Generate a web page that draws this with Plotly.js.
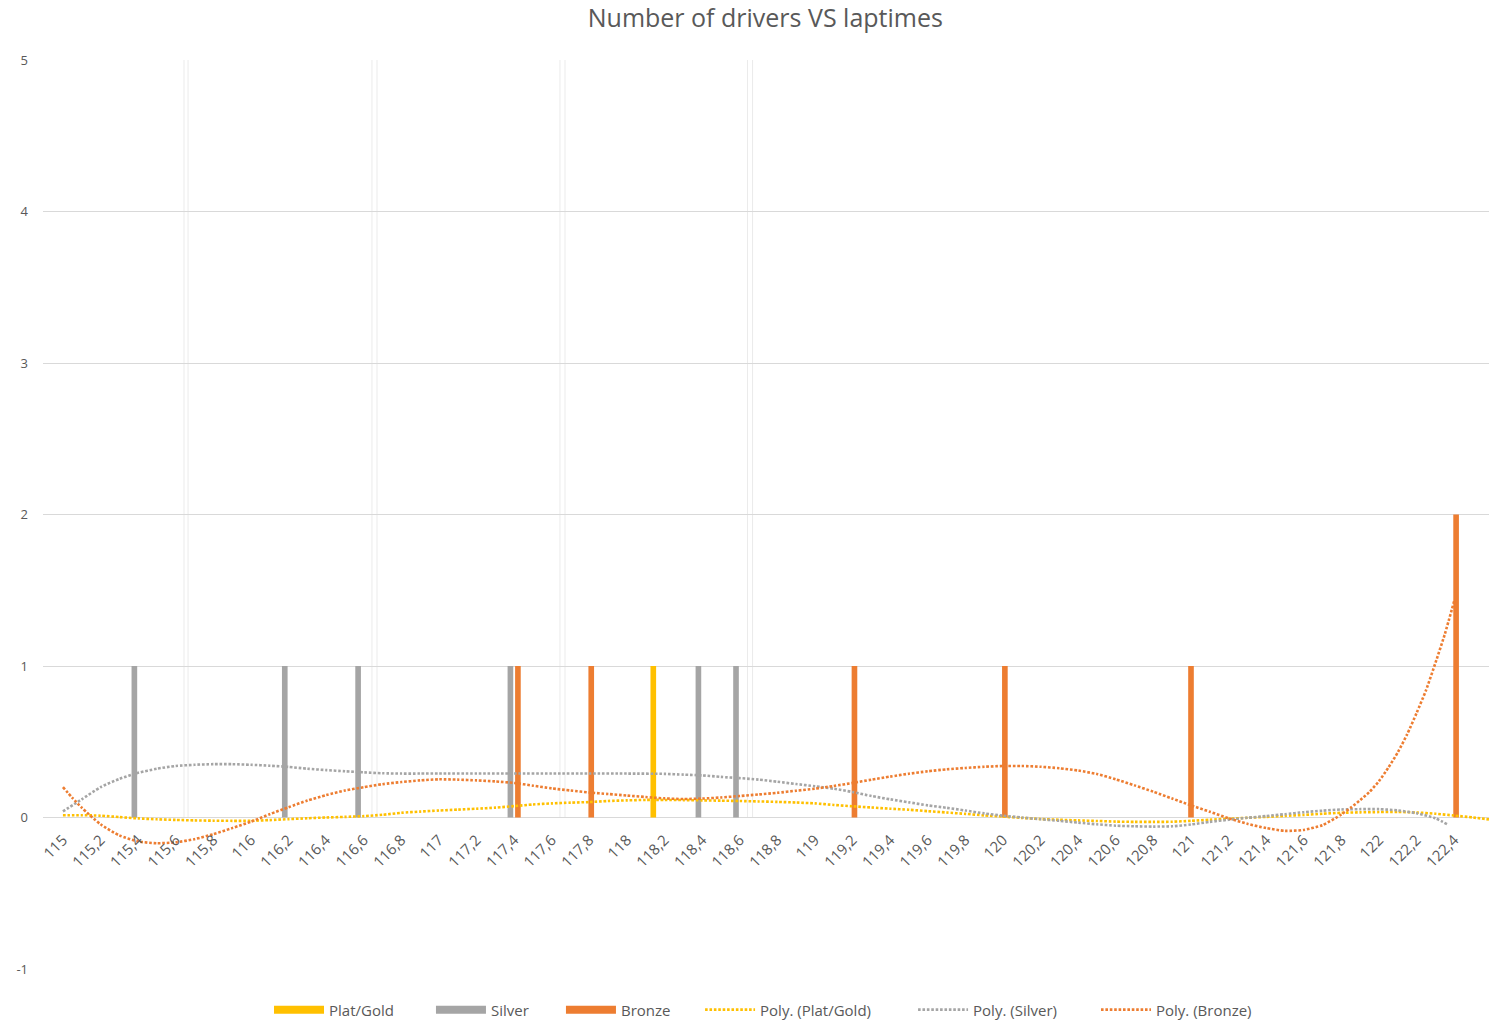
<!DOCTYPE html>
<html>
<head>
<meta charset="utf-8">
<script src="https://cdn.plot.ly/plotly-3.0.1.min.js"></script>
<style>html,body{margin:0;padding:0;background:#fff;}#chart{width:1489px;height:1021px;}</style>
</head>
<body>
<div id="chart"></div>
<script>
// ---- data ----
const seriesNames = ['Plat/Gold', 'Silver', 'Bronze'];
const trendNames = ['Poly. (Plat/Gold)', 'Poly. (Silver)', 'Poly. (Bronze)'];

const goldX = [118.14];
const goldY = [1];
const silverX = [115.38, 116.18, 116.57, 117.38, 118.38, 118.58];
const silverY = [1, 1, 1, 1, 1, 1];
const bronzeX = [117.42, 117.81, 119.21, 120.01, 121.0, 122.41];
const bronzeY = [1, 1, 1, 1, 1, 2];

const tickVals = [115, 115.2, 115.4, 115.6, 115.8, 116, 116.2, 116.4, 116.6, 116.8, 117, 117.2, 117.4, 117.6, 117.8, 118, 118.2, 118.4, 118.6, 118.8, 119, 119.2, 119.4, 119.6, 119.8, 120, 120.2, 120.4, 120.6, 120.8, 121, 121.2, 121.4, 121.6, 121.8, 122, 122.2, 122.4];
const tickLabels = ['115', '115,2', '115,4', '115,6', '115,8', '116', '116,2', '116,4', '116,6', '116,8', '117', '117,2', '117,4', '117,6', '117,8', '118', '118,2', '118,4', '118,6', '118,8', '119', '119,2', '119,4', '119,6', '119,8', '120', '120,2', '120,4', '120,6', '120,8', '121', '121,2', '121,4', '121,6', '121,8', '122', '122,2', '122,4'];
const yTickVals = [-1, 0, 1, 2, 3, 4, 5];
const yTickLabels = ['-1', '0', '1', '2', '3', '4', '5'];

// polynomial trendlines, values
const goldTrendX = [115.0, 115.1, 115.2, 115.3, 115.4, 115.5, 115.6, 115.7, 115.8, 115.9, 116.0, 116.1, 116.2, 116.3, 116.4, 116.5, 116.6, 116.7, 116.8, 116.9, 117.0, 117.1, 117.2, 117.3, 117.4, 117.5, 117.6, 117.7, 117.8, 117.9, 118.0, 118.1, 118.2, 118.3, 118.4, 118.5, 118.6, 118.7, 118.8, 118.9, 119.0, 119.1, 119.2, 119.3, 119.4, 119.5, 119.6, 119.7, 119.8, 119.9, 120.0, 120.1, 120.2, 120.3, 120.4, 120.5, 120.6, 120.7, 120.8, 120.9, 121.0, 121.1, 121.2, 121.3, 121.4, 121.5, 121.6, 121.7, 121.8, 121.9, 122.0, 122.1, 122.2, 122.3, 122.4, 122.5, 122.6];
const goldTrendY = [0.015, 0.015, 0.012, 0.003, -0.006, -0.012, -0.016, -0.019, -0.021, -0.022, -0.022, -0.017, -0.011, -0.005, 0.0, 0.004, 0.009, 0.018, 0.031, 0.039, 0.046, 0.052, 0.058, 0.065, 0.075, 0.086, 0.093, 0.098, 0.102, 0.109, 0.113, 0.116, 0.116, 0.115, 0.113, 0.111, 0.109, 0.106, 0.103, 0.099, 0.093, 0.083, 0.074, 0.066, 0.058, 0.051, 0.042, 0.033, 0.024, 0.014, 0.006, -0.003, -0.01, -0.015, -0.019, -0.023, -0.027, -0.029, -0.029, -0.028, -0.022, -0.015, -0.008, -0.002, 0.004, 0.011, 0.017, 0.025, 0.031, 0.034, 0.036, 0.037, 0.033, 0.025, 0.013, 0.0, -0.015];

const silverTrendX = [115.0, 115.1, 115.2, 115.3, 115.4, 115.5, 115.6, 115.7, 115.8, 115.9, 116.0, 116.1, 116.2, 116.3, 116.4, 116.5, 116.6, 116.7, 116.8, 116.9, 117.0, 117.2, 117.4, 117.6, 117.8, 118.0, 118.2, 118.3, 118.4, 118.5, 118.6, 118.7, 118.8, 118.9, 119.0, 119.1, 119.2, 119.3, 119.4, 119.5, 119.6, 119.7, 119.8, 119.9, 120.0, 120.1, 120.2, 120.3, 120.4, 120.5, 120.6, 120.7, 120.8, 120.9, 121.0, 121.1, 121.2, 121.3, 121.4, 121.5, 121.6, 121.7, 121.8, 121.9, 122.0, 122.1, 122.2, 122.3, 122.37];
const silverTrendY = [0.04, 0.12, 0.2, 0.255, 0.295, 0.322, 0.34, 0.348, 0.352, 0.352, 0.348, 0.342, 0.334, 0.322, 0.313, 0.305, 0.298, 0.292, 0.29, 0.29, 0.29, 0.29, 0.29, 0.29, 0.29, 0.29, 0.288, 0.283, 0.278, 0.268, 0.26, 0.25, 0.236, 0.221, 0.206, 0.19, 0.168, 0.142, 0.12, 0.1, 0.08, 0.064, 0.046, 0.027, 0.012, 0.0, -0.012, -0.022, -0.034, -0.045, -0.054, -0.058, -0.06, -0.058, -0.046, -0.029, -0.015, -0.002, 0.01, 0.022, 0.035, 0.045, 0.053, 0.055, 0.055, 0.047, 0.028, -0.005, -0.05];

const bronzeTrendX = [115.0, 115.05, 115.1, 115.2, 115.3, 115.4, 115.5, 115.6, 115.7, 115.8, 115.9, 116.0, 116.1, 116.2, 116.3, 116.4, 116.5, 116.6, 116.7, 116.8, 116.9, 117.0, 117.1, 117.2, 117.3, 117.4, 117.5, 117.6, 117.7, 117.8, 117.9, 118.0, 118.1, 118.2, 118.3, 118.4, 118.5, 118.6, 118.7, 118.8, 118.9, 119.0, 119.1, 119.2, 119.3, 119.4, 119.5, 119.6, 119.7, 119.8, 119.9, 120.0, 120.1, 120.2, 120.3, 120.4, 120.5, 120.6, 120.7, 120.8, 120.9, 121.0, 121.1, 121.2, 121.3, 121.4, 121.5, 121.6, 121.7, 121.8, 121.85, 121.9, 121.95, 122.0, 122.05, 122.1, 122.15, 122.2, 122.25, 122.3, 122.35, 122.4];
const bronzeTrendY = [0.2, 0.13, 0.065, -0.045, -0.118, -0.158, -0.17, -0.164, -0.143, -0.11, -0.07, -0.028, 0.022, 0.068, 0.112, 0.148, 0.178, 0.2, 0.22, 0.234, 0.245, 0.252, 0.25, 0.245, 0.238, 0.228, 0.21, 0.192, 0.178, 0.165, 0.155, 0.145, 0.135, 0.126, 0.122, 0.125, 0.132, 0.142, 0.152, 0.163, 0.177, 0.19, 0.208, 0.228, 0.25, 0.27, 0.289, 0.305, 0.318, 0.327, 0.335, 0.34, 0.34, 0.335, 0.325, 0.31, 0.287, 0.252, 0.212, 0.17, 0.125, 0.08, 0.038, -0.005, -0.042, -0.07, -0.088, -0.082, -0.05, 0.02, 0.065, 0.115, 0.17, 0.24, 0.33, 0.43, 0.55, 0.69, 0.84, 1.02, 1.21, 1.43];

// ---- styles ----
const colors = ['#FFC000', '#A5A5A5', '#ED7D31'];
const txt = '#595959';
const font = '"Open Sans", "Noto Sans", sans-serif';

function barTrace(name, x, y, color) {
  return {type: 'bar', name: name, x: x, y: y, width: 0.03,
    marker: {color: color, line: {width: 0}}, showlegend: false, hoverinfo: 'x+y'};
}
function trendTrace(name, x, y, color, leg) {
  return {type: 'scatter', mode: 'lines', name: name, x: x, y: y, legend: leg,
    line: {color: color, width: 2.6, dash: '2.6px,1.8px', shape: 'spline', smoothing: 0.6},
    showlegend: true};
}
function legendSwatch(name, color, leg) {
  return {type: 'scatter', mode: 'lines', name: name, x: [null], y: [null], legend: leg,
    line: {color: color, width: 8}, showlegend: true, hoverinfo: 'skip'};
}

const data = [
  barTrace(seriesNames[0], goldX, goldY, colors[0]),
  barTrace(seriesNames[1], silverX, silverY, colors[1]),
  barTrace(seriesNames[2], bronzeX, bronzeY, colors[2]),
  legendSwatch(seriesNames[0], colors[0], 'legend'),
  legendSwatch(seriesNames[1], colors[1], 'legend2'),
  legendSwatch(seriesNames[2], colors[2], 'legend3'),
  trendTrace(trendNames[0], goldTrendX, goldTrendY, colors[0], 'legend4'),
  trendTrace(trendNames[1], silverTrendX, silverTrendY, colors[1], 'legend5'),
  trendTrace(trendNames[2], bronzeTrendX, bronzeTrendY, colors[2], 'legend6')
];

// faint artefact double lines seen in the reference
const faint = [0.0975, 0.1003, 0.2275, 0.231, 0.3575, 0.361, 0.4872, 0.4907];
const shapes = faint.map(function (p) {
  return {type: 'line', xref: 'paper', yref: 'paper', x0: p, x1: p, y0: 0.1667, y1: 1,
    line: {color: '#EBEBEB', width: 1}, layer: 'below'};
});

function legendAt(xFrac) {
  return {orientation: 'h', x: xFrac, xanchor: 'left', y: -0.045, yanchor: 'middle',
    font: {size: 15, color: txt, family: font}, itemwidth: 50, bgcolor: 'rgba(0,0,0,0)'};
}

const layout = {
  width: 1489, height: 1021,
  margin: {l: 43, r: 0, t: 60, b: 52, autoexpand: false},
  paper_bgcolor: '#ffffff', plot_bgcolor: '#ffffff',
  font: {family: font, color: txt, size: 14},
  separators: ', ',
  title: {text: 'Number of drivers VS laptimes', font: {family: font, size: 25, color: txt},
    x: 0.514, xanchor: 'center', y: 0.982, yanchor: 'middle', yref: 'container'},
  barmode: 'overlay',
  xaxis: {
    type: 'linear', range: [114.894, 122.585],
    tickmode: 'array', tickvals: tickVals, ticktext: tickLabels,
    tickangle: -45, tickfont: {size: 15, color: txt},
    showgrid: false, zeroline: false, showline: false, ticks: '',
    ticklabelstandoff: 10,
    anchor: 'free', position: 0.16667
  },
  yaxis: {
    range: [-1, 5], tickmode: 'array', tickvals: yTickVals, ticktext: yTickLabels,
    showgrid: true, gridcolor: '#D9D9D9', gridwidth: 1.4,
    zeroline: false, showline: false, ticks: '',
    ticklabelstandoff: 14, tickfont: {size: 13, color: txt}
  },
  legend: legendAt(0.1563),
  legend2: legendAt(0.2683),
  legend3: legendAt(0.3582),
  legend4: legendAt(0.4544),
  legend5: legendAt(0.6017),
  legend6: legendAt(0.7282),
  shapes: shapes,
  hovermode: 'closest'
};

Plotly.newPlot('chart', data, layout, {displayModeBar: false});
</script>
</body>
</html>
